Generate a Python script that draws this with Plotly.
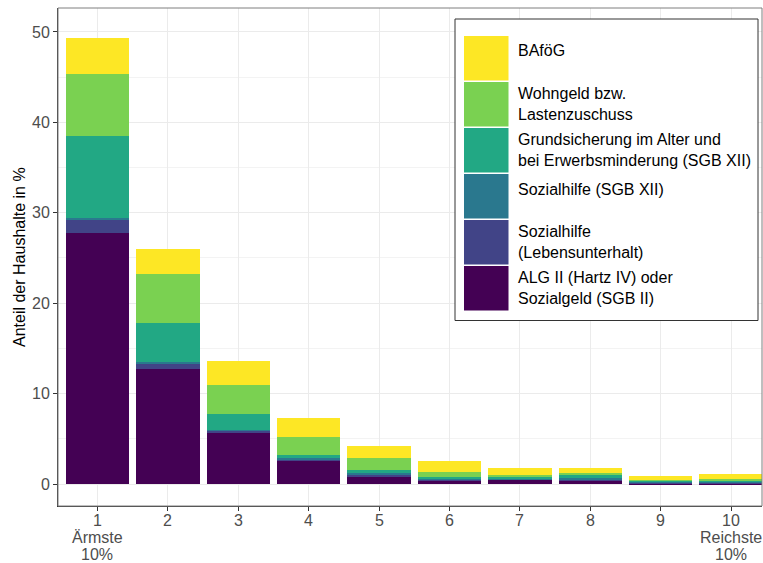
import plotly.graph_objects as go

deciles = [1, 2, 3, 4, 5, 6, 7, 8, 9, 10]
tick_labels = ["1", "2", "3", "4", "5", "6", "7", "8", "9", "10"]
extra_labels = {1: ["Ärmste", "10%"], 10: ["Reichste", "10%"]}

alg2 = [27.8, 12.7, 5.6, 2.55, 0.8, 0.4, 0.45, 0.4, 0.08, 0.1]
sozial_lu = [1.5, 0.6, 0.3, 0.2, 0.2, 0.1, 0.1, 0.1, 0.08, 0.1]
sozial_sgb12 = [0.15, 0.25, 0.1, 0.1, 0.2, 0.1, 0.1, 0.2, 0.1, 0.12]
grundsicherung = [9.0, 4.3, 1.7, 0.35, 0.35, 0.15, 0.15, 0.3, 0.12, 0.12]
wohngeld = [6.85, 5.4, 3.3, 2.0, 1.3, 0.55, 0.2, 0.2, 0.12, 0.15]
bafoeg = [4.0, 2.8, 2.6, 2.15, 1.35, 1.25, 0.8, 0.6, 0.38, 0.55]

series = [
    ("ALG II (Hartz IV) oder<br>Sozialgeld (SGB II)", alg2, "#440154"),
    ("Sozialhilfe<br>(Lebensunterhalt)", sozial_lu, "#414487"),
    ("Sozialhilfe (SGB XII)", sozial_sgb12, "#2A788E"),
    ("Grundsicherung im Alter und<br>bei Erwerbsminderung (SGB XII)", grundsicherung, "#22A884"),
    ("Wohngeld bzw.<br>Lastenzuschuss", wohngeld, "#7AD151"),
    ("BAföG", bafoeg, "#FDE725"),
]

FONT = "Liberation Sans, Arial, sans-serif"
W_PX, H_PX = 763, 563
L, R, T, B = 58, 1, 8, 57
PW, PH = W_PX - L - R, H_PX - T - B

def px(x):
    return (x - L) / PW

def py(y):
    return 1 - (y - T) / PH

fig = go.Figure()
for name, vals, col in series:
    fig.add_trace(go.Bar(x=deciles, y=vals, name=name, marker=dict(color=col, line=dict(width=0)),
                         showlegend=False))

shapes = []
annotations = []
# custom legend (ggplot style)
shapes.append(dict(type="rect", xref="paper", yref="paper", x0=px(455), x1=px(758), y0=py(320.5), y1=py(19),
                   line=dict(color="#333333", width=1), fillcolor="white", layer="above"))
row_top = 36
for i, (name, vals, col) in enumerate(reversed(series)):
    y0 = row_top + i * 46
    shapes.append(dict(type="rect", xref="paper", yref="paper", x0=px(464), x1=px(508.5),
                       y0=py(y0 + 44.5), y1=py(y0), line=dict(width=0), fillcolor=col, layer="above"))
    ymid = y0 + 22 - (7 if "<br>" not in name else 0)
    annotations.append(dict(text=name, xref="paper", yref="paper", x=px(516), y=py(ymid),
                            xanchor="left", yanchor="middle", align="left", showarrow=False,
                            font=dict(family=FONT, size=16, color="black")))

# x tick labels (numbers + extra lines under deciles 1 and 10)
for d, lab in zip(deciles, tick_labels):
    annotations.append(dict(text=lab, xref="x", yref="paper", x=d, y=py(520.5),
                            xanchor="center", yanchor="middle", showarrow=False,
                            font=dict(family=FONT, size=16, color="#4D4D4D")))
for d, lines in extra_labels.items():
    for j, line in enumerate(lines):
        annotations.append(dict(text=line, xref="x", yref="paper", x=d, y=py(537.5 + 16.5 * j),
                                xanchor="center", yanchor="middle", showarrow=False, borderpad=0,
                                font=dict(family=FONT, size=16, color="#4D4D4D")))

# panel border (top/right)
shapes.append(dict(type="rect", xref="paper", yref="paper", x0=0, x1=1, y0=0, y1=1,
                   line=dict(color="#7F7F7F", width=1), layer="above"))

annotations.append(dict(text="Anteil der Haushalte in %", xref="paper", yref="paper", x=px(19), y=0.5,
                        textangle=-90, xanchor="center", yanchor="middle", showarrow=False,
                        font=dict(family=FONT, size=16, color="black")))

fig.update_layout(
    width=W_PX, height=H_PX,
    margin=dict(l=L, r=R, t=T, b=B, autoexpand=False),
    barmode="stack", bargap=0.1,
    plot_bgcolor="white", paper_bgcolor="white",
    font=dict(family=FONT, size=16, color="#4D4D4D"),
    shapes=shapes, annotations=annotations,
    showlegend=False,
)
fig.update_xaxes(
    range=[0.44, 10.44], tickmode="array", tickvals=deciles, showticklabels=False,
    showgrid=True, gridcolor="#EBEBEB", gridwidth=1,
    showline=True, linecolor="#333333", linewidth=1,
    ticks="outside", ticklen=4, tickcolor="#333333",
    zeroline=False,
)
fig.update_yaxes(
    range=[-2.43, 52.65], tickmode="array", tickvals=[0, 10, 20, 30, 40, 50],
    showgrid=True, gridcolor="#EBEBEB", gridwidth=1,
    minor=dict(tickmode="array", tickvals=[5, 15, 25, 35, 45], showgrid=True, gridcolor="#F3F3F3", gridwidth=0.6),
    showline=True, linecolor="#333333", linewidth=1,
    ticks="outside", ticklen=4, tickcolor="#333333",
    tickfont=dict(family=FONT, size=16, color="#4D4D4D"),
    zeroline=False,
)

fig.write_html("out.html", config={"displayModeBar": False},
               post_script="document.body.style.margin='0px';document.body.style.overflow='hidden';")
